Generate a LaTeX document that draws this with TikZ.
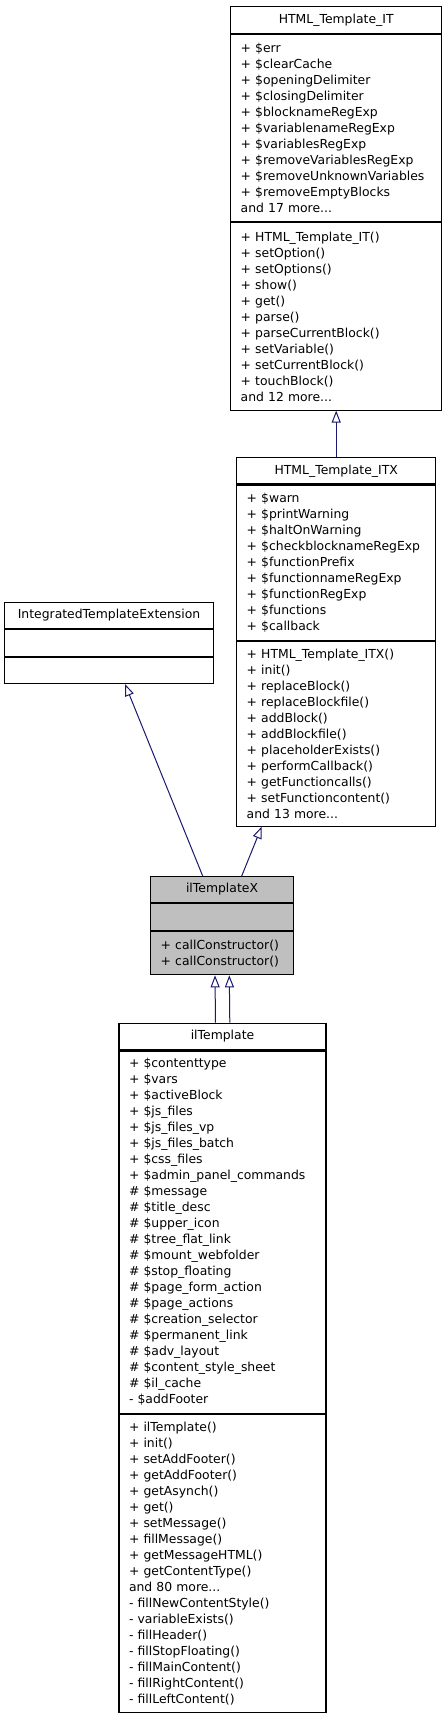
\documentclass[tikz,border=0pt]{standalone}
\usepackage{fontspec}
\setmainfont{DejaVu Sans}
\usetikzlibrary{
    arrows.meta,
    calc,
    positioning
}
\definecolor{edgeblue}{HTML}{191970}
\definecolor{curgray}{HTML}{BFBFBF}

\begin{document}
\begin{tikzpicture}[x=1pt,y=-1pt,font=\fontsize{12.4}{16}\selectfont,
    member/.style={draw=black,fill=white,line width=1.1pt,inner xsep=10pt,inner ysep=0pt,align=left},
    clsname/.style={member,align=center},
    inherit/.style={draw=edgeblue,line width=1pt,-{Triangle[open,length=12pt,width=9pt]}}]
    \useasboundingbox (0,0) rectangle (447,1717);

    % HTML_Template_IT
    \node[clsname,text width=191pt,minimum height=27pt,anchor=north] (it_name) at (336.2,6) {HTML\_Template\_IT};
    \node[member,text width=191pt,minimum height=187pt,below=0pt of it_name] (it_attr)
        {+ \$err\\+ \$clearCache\\+ \$openingDelimiter\\+ \$closingDelimiter\\+ \$blocknameRegExp\\
         + \$variablenameRegExp\\+ \$variablesRegExp\\+ \$removeVariablesRegExp\\
         + \$removeUnknownVariables\\+ \$removeEmptyBlocks\\and 17 more...};
    \node[member,text width=191pt,minimum height=187.3pt,below=0pt of it_attr] (it_ops)
        {+ HTML\_Template\_IT()\\+ setOption()\\+ setOptions()\\+ show()\\+ get()\\+ parse()\\
         + parseCurrentBlock()\\+ setVariable()\\+ setCurrentBlock()\\+ touchBlock()\\and 12 more...};

    % HTML_Template_ITX
    \node[clsname,text width=179pt,minimum height=26pt,anchor=north] (itx_name) at (336.2,457.3) {HTML\_Template\_ITX};
    \node[member,text width=179pt,minimum height=155.4pt,below=0pt of itx_name] (itx_attr)
        {+ \$warn\\+ \$printWarning\\+ \$haltOnWarning\\+ \$checkblocknameRegExp\\+ \$functionPrefix\\
         + \$functionnameRegExp\\+ \$functionRegExp\\+ \$functions\\+ \$callback};
    \node[member,text width=179pt,minimum height=184.6pt,below=0pt of itx_attr] (itx_ops)
        {+ HTML\_Template\_ITX()\\+ init()\\+ replaceBlock()\\+ replaceBlockfile()\\+ addBlock()\\
         + addBlockfile()\\+ placeholderExists()\\+ performCallback()\\+ getFunctioncalls()\\
         + setFunctioncontent()\\and 13 more...};

    % IntegratedTemplateExtension
    \node[clsname,text width=188.6pt,minimum height=26pt,anchor=north] (ite_name) at (109,601.7) {IntegratedTemplateExtension};
    \node[member,text width=188.6pt,minimum height=27.3pt,below=0pt of ite_name] (ite_attr) {};
    \node[member,text width=188.6pt,minimum height=25.7pt,below=0pt of ite_attr] (ite_ops) {};

    % ilTemplateX
    \node[clsname,fill=curgray,text width=122.6pt,minimum height=26pt,anchor=north] (ilx_name) at (222,876) {ilTemplateX};
    \node[member,fill=curgray,text width=122.6pt,minimum height=26.7pt,below=0pt of ilx_name] (ilx_attr) {};
    \node[member,fill=curgray,text width=122.6pt,minimum height=43.3pt,below=0pt of ilx_attr] (ilx_ops)
        {+ callConstructor()\\+ callConstructor()};

    % ilTemplate
    \node[clsname,text width=187pt,minimum height=26.6pt,anchor=north] (ilt_name) at (222.5,1022.7) {ilTemplate};
    \node[member,text width=187pt,minimum height=362.4pt,below=0pt of ilt_name] (ilt_attr)
        {+ \$contenttype\\+ \$vars\\+ \$activeBlock\\+ \$js\_files\\+ \$js\_files\_vp\\+ \$js\_files\_batch\\
         + \$css\_files\\+ \$admin\_panel\_commands\\\# \$message\\\# \$title\_desc\\\# \$upper\_icon\\
         \# \$tree\_flat\_link\\\# \$mount\_webfolder\\\# \$stop\_floating\\\# \$page\_form\_action\\
         \# \$page\_actions\\\# \$creation\_selector\\\# \$permanent\_link\\\# \$adv\_layout\\
         \# \$content\_style\_sheet\\\# \$il\_cache\\- \$addFooter};
    \node[member,text width=187pt,minimum height=298.3pt,below=0pt of ilt_attr] (ilt_ops)
        {+ ilTemplate()\\+ init()\\+ setAddFooter()\\+ getAddFooter()\\+ getAsynch()\\+ get()\\
         + setMessage()\\+ fillMessage()\\+ getMessageHTML()\\+ getContentType()\\and 80 more...\\
         - fillNewContentStyle()\\- variableExists()\\- fillHeader()\\- fillStopFloating()\\
         - fillMainContent()\\- fillRightContent()\\- fillLeftContent()};

    \draw[inherit] (itx_name) -- (it_ops);
    \draw[inherit] ($(ilx_name.north)+(-19.3,0)$) -- ($(ite_ops.south)+(16,0)$);
    \draw[inherit] ($(ilx_name.north)+(19.7,0)$) -- ($(itx_ops.south)+(-74.5,0)$);
    \draw[inherit] ($(ilt_name.north)+(-7,0)$) -- ($(ilx_ops.south)+(-7,0)$);
    \draw[inherit] ($(ilt_name.north)+(7.3,0)$) -- ($(ilx_ops.south)+(7.3,0)$);
\end{tikzpicture}
\end{document}
